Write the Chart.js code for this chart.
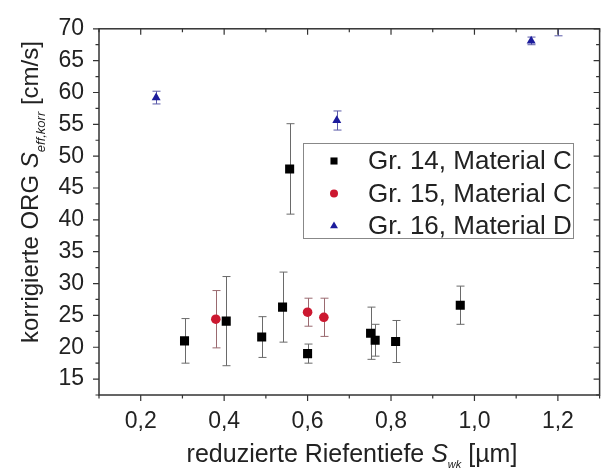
<!DOCTYPE html>
<html>
<head>
<meta charset="utf-8">
<script src="https://cdn.jsdelivr.net/npm/chart.js@4.4.0/dist/chart.umd.min.js"></script>
<style>
html, body { margin: 0; padding: 0; background: #fff; overflow: hidden; }
#wrap { width: 603px; height: 470px; overflow: hidden; }
</style>
</head>
<body>
<div id="wrap"><canvas id="chart" width="606" height="470"></canvas></div>
<script>
// Axis ticks
const xTickValues = [0.2, 0.4, 0.6, 0.8, 1.0, 1.2];
const xTickLabels = ['0,2', '0,4', '0,6', '0,8', '1,0', '1,2'];
const xMinorValues = [0.1, 0.3, 0.5, 0.7, 0.9, 1.1, 1.3];
const yTickValues = [15, 20, 25, 30, 35, 40, 45, 50, 55, 60, 65, 70];
const yMinorValues = [12.5, 17.5, 22.5, 27.5, 32.5, 37.5, 42.5, 47.5, 52.5, 57.5, 62.5, 67.5];

// Gr. 14, Material C
const gr14X = [0.305, 0.405, 0.49, 0.54, 0.557, 0.60, 0.751, 0.762, 0.811, 0.966];
const gr14Y = [21.0, 24.1, 21.6, 26.3, 48.0, 19.0, 22.2, 21.1, 20.9, 26.6];
const gr14Err = [3.5, 7.0, 3.2, 5.5, 7.1, 1.5, 4.1, 2.5, 3.3, 3.0];

// Gr. 15, Material C
const gr15X = [0.38, 0.60, 0.639];
const gr15Y = [24.4, 25.5, 24.7];
const gr15Err = [4.5, 2.2, 3.0];

// Gr. 16, Material D
const gr16X = [0.237, 0.67, 1.136, 1.2];
const gr16Y = [59.2, 55.6, 68.1, 71.2];
const gr16Err = [1.0, 1.5, 0.6, 2.3];

const seriesNames = ['Gr. 14, Material C', 'Gr. 15, Material C', 'Gr. 16, Material D'];

const FONT = '"Liberation Sans", Arial, sans-serif';
const AXIS_COLOR = '#333';

function toPoints(xs, ys) {
    return xs.map((x, i) => ({ x: x, y: ys[i] }));
}

// vertical error bars with caps, clipped to the plot area
const errorBars = {
    id: 'errorBars',
    beforeDatasetsDraw(chart) {
        const { ctx, chartArea, scales: { x, y } } = chart;
        ctx.save();
        ctx.beginPath();
        ctx.rect(chartArea.left, chartArea.top, chartArea.right - chartArea.left, chartArea.bottom - chartArea.top);
        ctx.clip();
        ctx.lineWidth = 1;
        chart.data.datasets.forEach(ds => {
            ctx.strokeStyle = ds.errorColor;
            ds.data.forEach((p, i) => {
                const e = ds.errors[i];
                const px = Math.round(x.getPixelForValue(p.x)) + 0.5;
                const top = y.getPixelForValue(p.y + e);
                const bot = y.getPixelForValue(p.y - e);
                ctx.beginPath();
                ctx.moveTo(px, top); ctx.lineTo(px, bot);
                ctx.moveTo(px - 4, top); ctx.lineTo(px + 4, top);
                ctx.moveTo(px - 4, bot); ctx.lineTo(px + 4, bot);
                ctx.stroke();
            });
        });
        ctx.restore();
    }
};

// draws a label made of [text, font, baseline shift] pieces, centred on cx
function drawRichText(ctx, parts, cx, baseY) {
    let total = 0;
    parts.forEach(p => { ctx.font = p.font; p.w = ctx.measureText(p.text).width; total += p.w; });
    let x = cx - total / 2;
    parts.forEach(p => {
        ctx.font = p.font;
        ctx.fillText(p.text, x, baseY + (p.shift || 0));
        x += p.w;
    });
}

// box frame, major/minor ticks, axis titles and legend
const frame = {
    id: 'frame',
    afterDraw(chart) {
        const { ctx, chartArea: a, scales: { x, y } } = chart;
        ctx.save();
        ctx.strokeStyle = AXIS_COLOR;
        ctx.lineWidth = 1.5;
        ctx.strokeRect(a.left, a.top, a.right - a.left, a.bottom - a.top);

        ctx.lineWidth = 1.2;
        ctx.beginPath();
        const xt = (v, len) => {
            const px = x.getPixelForValue(v);
            ctx.moveTo(px, a.bottom); ctx.lineTo(px, a.bottom + len);
            ctx.moveTo(px, a.top); ctx.lineTo(px, a.top + len);
        };
        const yt = (v, len) => {
            const py = y.getPixelForValue(v);
            ctx.moveTo(a.left, py); ctx.lineTo(a.left - len, py);
            ctx.moveTo(a.right, py); ctx.lineTo(a.right - len, py);
        };
        xTickValues.forEach(v => xt(v, 6));
        xMinorValues.forEach(v => xt(v, 3.5));
        yTickValues.forEach(v => yt(v, 6));
        yMinorValues.forEach(v => yt(v, 3.5));
        ctx.stroke();

        // axis titles
        ctx.fillStyle = '#222';
        ctx.textBaseline = 'alphabetic';
        ctx.textAlign = 'left';
        drawRichText(ctx, [
            { text: 'reduzierte Riefentiefe ', font: '25px ' + FONT },
            { text: 'S', font: 'italic 25px ' + FONT },
            { text: 'wk', font: 'italic 11px ' + FONT, shift: 6 },
            { text: ' [µm]', font: '25px ' + FONT }
        ], 352, 462);

        ctx.save();
        ctx.translate(38, 192);
        ctx.rotate(-Math.PI / 2);
        drawRichText(ctx, [
            { text: 'korrigierte ORG ', font: '24px ' + FONT },
            { text: 'S', font: 'italic 24px ' + FONT },
            { text: 'eff,korr', font: 'italic 13px ' + FONT, shift: 7 },
            { text: ' [cm/s]', font: '24px ' + FONT }
        ], 0, 0);
        ctx.restore();

        // legend
        const lx = 303, ly = 143, lw = 270, lh = 95;
        ctx.fillStyle = '#fff';
        ctx.fillRect(lx, ly, lw, lh);
        ctx.strokeStyle = '#888';
        ctx.lineWidth = 1;
        ctx.strokeRect(lx + 0.5, ly + 0.5, lw, lh);
        ctx.font = '26px ' + FONT;
        ctx.textBaseline = 'middle';
        chart.data.datasets.forEach((ds, i) => {
            const rowY = ly + 18 + i * 32.5;
            ctx.fillStyle = ds.backgroundColor;
            Chart.helpers.drawPoint(ctx, {
                pointStyle: ds.pointStyle, radius: ds.legendRadius, rotation: 0, borderWidth: 0
            }, lx + 31, rowY);
            ctx.fillStyle = '#222';
            ctx.fillText(ds.label, lx + 65, rowY + 1);
        });
        ctx.restore();
    }
};

const ctx = document.getElementById('chart').getContext('2d');
new Chart(ctx, {
    type: 'scatter',
    data: {
        datasets: [{
            label: seriesNames[0],
            data: toPoints(gr14X, gr14Y),
            errors: gr14Err,
            errorColor: '#6a6a6a',
            pointStyle: 'rect',
            pointRadius: 6.4,
            legendRadius: 5,
            backgroundColor: '#000',
            borderWidth: 0
        }, {
            label: seriesNames[1],
            data: toPoints(gr15X, gr15Y),
            errors: gr15Err,
            errorColor: '#9a6a70',
            pointStyle: 'circle',
            pointRadius: 4.8,
            legendRadius: 4,
            backgroundColor: '#cc1830',
            borderWidth: 0
        }, {
            label: seriesNames[2],
            data: toPoints(gr16X, gr16Y),
            errors: gr16Err,
            errorColor: '#5a5aa8',
            pointStyle: 'triangle',
            pointRadius: 5.2,
            legendRadius: 4.6,
            backgroundColor: '#1c1c9c',
            borderWidth: 0
        }]
    },
    options: {
        responsive: false,
        animation: false,
        events: [],
        layout: { padding: { top: 23, left: 0, right: 0, bottom: 0 } },
        plugins: {
            legend: { display: false },
            tooltip: { enabled: false }
        },
        scales: {
            x: {
                type: 'linear',
                min: 0.1,
                max: 1.3,
                grid: { display: false, drawTicks: false },
                border: { display: false },
                afterBuildTicks: s => { s.ticks = xTickValues.map(v => ({ value: v })); },
                afterFit: s => { s.height = 75; },
                ticks: {
                    padding: 13,
                    color: '#222',
                    font: { family: FONT, size: 23 },
                    maxRotation: 0,
                    callback: v => xTickLabels[xTickValues.findIndex(t => Math.abs(t - v) < 1e-6)]
                }
            },
            y: {
                type: 'linear',
                min: 12.5,
                max: 70,
                grid: { display: false, drawTicks: false },
                border: { display: false },
                afterBuildTicks: s => { s.ticks = yTickValues.map(v => ({ value: v })); },
                afterFit: s => { s.width = 99; },
                ticks: {
                    padding: 15,
                    color: '#222',
                    font: { family: FONT, size: 23 },
                    callback: v => String(v)
                }
            }
        }
    },
    plugins: [errorBars, frame]
});
</script>
</body>
</html>
